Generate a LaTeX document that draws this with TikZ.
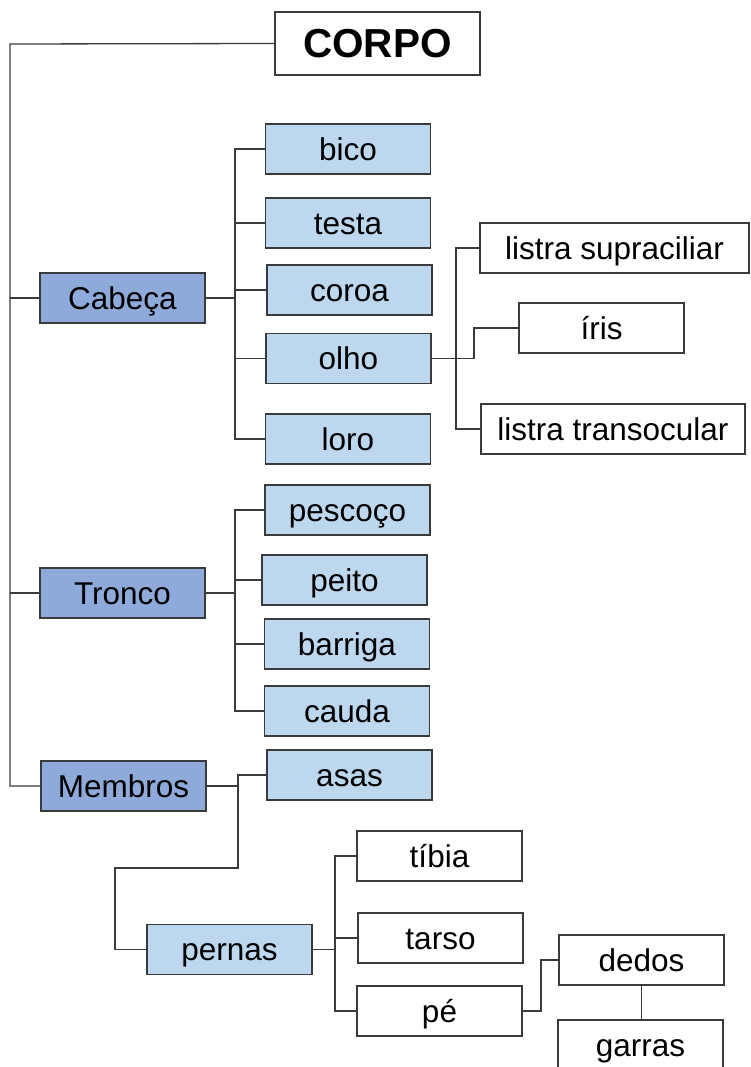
\documentclass[tikz,border=0pt]{standalone}
\usepackage{fontspec}
\setmainfont{Liberation Sans}
\definecolor{cdark}{HTML}{8EAADB}
\definecolor{clight}{HTML}{BDD7EE}
\definecolor{edge}{HTML}{3A3A3A}
\begin{document}
\begin{tikzpicture}[x=1pt,y=-1pt,
  box/.style={draw=edge, line width=1.1pt, minimum width=165pt, minimum height=50pt, inner sep=0pt,
    text height=22.5pt, text depth=0pt, font=\fontsize{31.5}{36}\selectfont},
  lvla/.style={box, fill=cdark},
  lvlb/.style={box, fill=clight},
  leaf/.style={box, fill=white},
  conn/.style={draw=edge, line width=1.3pt}]
\useasboundingbox (0,0) rectangle (750,1067);
% nodes
\node[box, fill=white, minimum width=205pt, minimum height=63pt, text height=29pt, font=\fontsize{40.5}{46}\selectfont\bfseries] (corpo) at (377.5,43.5) {CORPO};
\node[lvla] (cabeca) at (122.5,298) {Cabeça};
\node[lvla] (tronco) at (122.5,593) {Tronco};
\node[lvla] (membros) at (123.5,786) {Membros};
\node[lvlb] (bico) at (348,149) {bico};
\node[lvlb] (testa) at (348,223) {testa};
\node[lvlb] (coroa) at (349.5,290) {coroa};
\node[lvlb] (olho) at (348.5,358.5) {olho};
\node[lvlb] (loro) at (348,439) {loro};
\node[leaf, minimum width=269pt] (supra) at (614.5,248) {listra supraciliar};
\node[leaf] (iris) at (601.5,328) {íris};
\node[leaf, minimum width=264pt] (trans) at (613,429) {listra transocular};
\node[lvlb] (pescoco) at (347.5,510) {pescoço};
\node[lvlb] (peito) at (344.5,580) {peito};
\node[lvlb] (barriga) at (347,644) {barriga};
\node[lvlb] (cauda) at (347,711) {cauda};
\node[lvlb] (asas) at (349.5,775) {asas};
\node[lvlb] (pernas) at (229.5,949.5) {pernas};
\node[leaf] (tibia) at (439.5,856) {tíbia};
\node[leaf] (tarso) at (440.5,938) {tarso};
\node[leaf] (pe) at (439.5,1011) {pé};
\node[leaf] (dedos) at (641.5,960) {dedos};
\node[leaf] (garras) at (640.5,1045) {garras};
% coordinates
\coordinate (tr) at (10,44);
\coordinate (cb) at (235,0);
\coordinate (tb) at (235,0);
\coordinate (ob) at (456,0);
\coordinate (ib) at (474,0);
\coordinate (mb) at (238,0);
\coordinate (pb1) at (115,868);
\coordinate (pb) at (335,0);
\coordinate (db) at (541,0);
% connectors
\draw[conn] (corpo.west) -- (tr) |- (membros.west);
\draw[conn] (cabeca.west) -- (cabeca.west -| tr);
\draw[conn] (tronco.west) -- (tronco.west -| tr);
% Cabeca
\draw[conn] (cabeca.east) -- (cabeca.east -| cb);
\draw[conn] (bico.west) -- (bico.west -| cb) -- (loro.west -| cb) -- (loro.west);
\foreach \n in {testa,coroa,olho} \draw[conn] (\n.west) -- (\n.west -| cb);
% olho
\draw[conn] (olho.east) -- (olho.east -| ib) -- (iris.west -| ib) -- (iris.west);
\draw[conn] (supra.west) -- (supra.west -| ob) -- (trans.west -| ob) -- (trans.west);
% Tronco
\draw[conn] (tronco.east) -- (tronco.east -| tb);
\draw[conn] (pescoco.west) -- (pescoco.west -| tb) -- (cauda.west -| tb) -- (cauda.west);
\foreach \n in {peito,barriga} \draw[conn] (\n.west) -- (\n.west -| tb);
% Membros
\draw[conn] (membros.east) -- (membros.east -| mb);
\draw[conn] (asas.west) -- (asas.west -| mb) -- (pb1 -| mb) -- (pb1) |- (pernas.west);
% pernas
\draw[conn] (pernas.east) -- (pernas.east -| pb);
\draw[conn] (tibia.west) -- (tibia.west -| pb) -- (pe.west -| pb) -- (pe.west);
\draw[conn] (tarso.west) -- (tarso.west -| pb);
% pe
\draw[conn] (pe.east) -- (pe.east -| db) |- (dedos.west);
\draw[conn] (dedos.south) -- (dedos.south |- garras.north);
\end{tikzpicture}
\end{document}
